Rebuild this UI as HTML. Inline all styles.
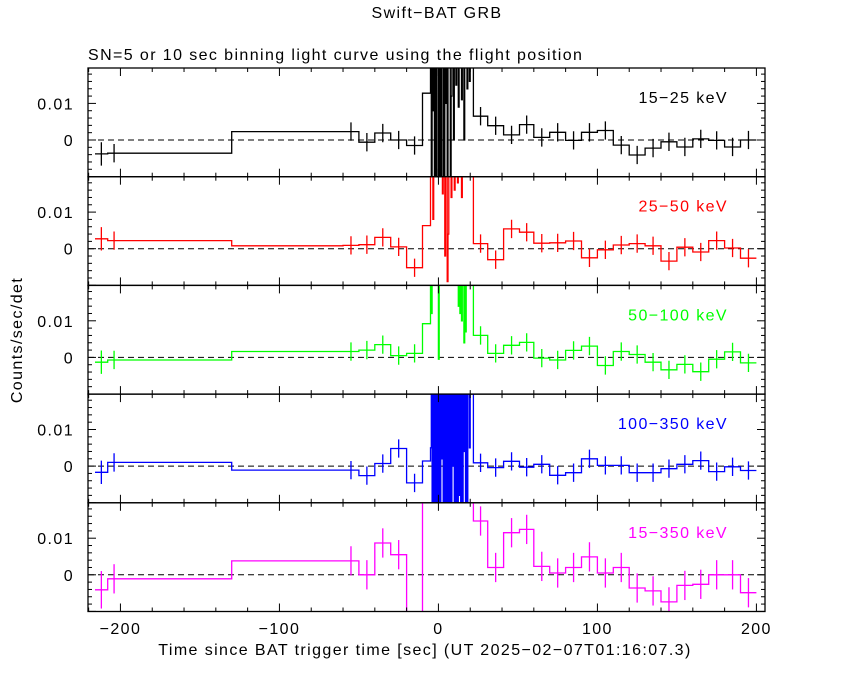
<!DOCTYPE html>
<html><head><meta charset="utf-8"><style>
html,body{margin:0;padding:0;background:#fff;}
svg{display:block;font-family:"Liberation Sans",sans-serif;}
svg text{letter-spacing:1.4px;}
</style></head><body>
<svg id="chart" width="850" height="680" viewBox="0 0 850 680" xmlns="http://www.w3.org/2000/svg">
<rect x="0" y="0" width="850" height="680" fill="#fff"/>
<text x="437" y="18" text-anchor="middle" font-size="16">Swift−BAT GRB</text>
<text x="88" y="60" font-size="16">SN=5 or 10 sec binning light curve using the flight position</text>
<text x="0" y="0" transform="translate(22,340) rotate(-90)" text-anchor="middle" font-size="16">Counts/sec/det</text>
<text x="425" y="655" text-anchor="middle" font-size="16">Time since BAT trigger time [sec] (UT 2025−02−07T01:16:07.3)</text>
<g id="plots"></g>
</svg>
<script>
const bandLabels = ["15−25 keV","25−50 keV","50−100 keV","100−350 keV","15−350 keV"];
const bandColors = ["#000000","#ff0000","#00ff00","#0000ff","#ff00ff"];
const xTicks = [-200,-100,0,100,200];
const xTickLabels = ["\u2212200","\u2212100","0","100","200"];
const yTicks = [0,0.01];
const yTickLabels = ["0","0.01"];
const preEdges = [-216,-208,-200,-130,-60,-50,-40,-30,-20,-10,-5];
const postEdges = [22,31,41,51,60,70,80,90,100,110,120,130,140,150,160,170,180,190,200];
const burstStart = -5, burstStep = 0.5;
const preErr = [0.0032,0.0025,0,0,0.0025,0.0025,0.0025,0.0025,0.0025,0];
const postErr = [0.0025,0.0025,0.0025,0.0025,0.0025,0.0025,0.0025,0.0025,0.0025,0.0025,0.0025,0.0025,0.0025,0.0025,0.0025,0.0025,0.0025,0.0025];
const errScale = [1,1,1,1,1.6];
const pre1 = [-0.0038,-0.0036,-0.0036,0.0023,0.0023,-0.0006,0.0019,0,-0.0015,0.0128];
const pre2 = [0.0027,0.0022,0.0022,0.0008,0.0009,0.0011,0.0031,0.0005,-0.0052,0.0063];
const pre3 = [-0.0013,-0.0007,-0.0007,0.0016,0.0016,0.002,0.0035,0.0005,0.0011,0.0092];
const pre4 = [-0.0017,0.001,0.001,-0.0011,-0.0011,-0.0026,0.0007,0.0048,-0.0046,0.0014];
const pre5 = [-0.0041,-0.0011,-0.0011,0.0038,0.0038,0,0.0087,0.0055,-0.015,0.03];
const post1 = [0.0065,0.0039,0.0014,0.0042,0.0007,0.0021,-0.0001,0.0021,0.0026,-0.0014,-0.0041,-0.0022,-0.0005,-0.0019,0.0003,-0.0001,-0.0019,0];
const post2 = [0.0014,-0.003,0.0054,0.0045,0.0015,0.0016,0.0021,-0.0025,-0.0003,0.001,0.0014,0.0008,-0.0034,0.0004,-0.0009,0.0022,0.0002,-0.0026];
const post3 = [0.006,0.0011,0.0033,0.0041,-0.0002,-0.0007,0.0019,0.0031,-0.0022,0.0016,0.0008,-0.0013,-0.0034,-0.0019,-0.0039,-0.0005,0.0015,-0.0015];
const post4 = [0.0009,-0.0004,0.0013,-0.0003,0.0005,-0.0025,-0.0018,0.002,0.0002,0.0002,-0.0018,-0.0018,-0.0007,0.0005,0.0015,-0.0015,-0.0002,-0.0012];
const post5 = [0.0147,0.002,0.0115,0.0124,0.0023,0.0005,0.002,0.0049,0.0005,0.002,-0.0036,-0.0044,-0.0074,-0.0029,-0.0026,0,0,-0.0049];
const burst1 = [0.03,-0.015,0.03,0.008,0.03,-0.015,0.03,-0.015,0.03,0.03,-0.015,0.03,-0.015,0.03,-0.015,-0.015,0.03,-0.015,0.03,0.01,0.03,-0.015,0.03,0.03,
 0.03,-0.015,0.012,0.03,0.03,0.0,0.03,0.03,0.015,0.03,0.03,0.009,0.03,0.03,0.03,0.011,0.03,0.03,0.0,0.03,0.03,0.03,0.014,0.03,0.03,0.016,0.03,0.03,0.03,0.03];
const burst2 = [0.03,0.03,0.03,0.008,0.03,0.03,0.03,0.03,0.03,0.03,0.03,0.03,0.03,0.03,0.03,0.015,0.03,0.03,-0.002,0.03,0.03,-0.009,0.004,0.03,
 0.03,0.03,0.014,0.03,0.03,0.03,0.016,0.03,0.03,0.03,0.018,0.03,0.03,0.03,0.03,0.014,0.03,0.03,0.03,0.03,0.03,0.03,0.03,0.03,0.03,0.03,0.03,0.03,0.03,0.03];
const burst3 = [0.03,0.012,0.03,0.03,0.03,0.03,0.03,0.03,0.03,0.03,-0.0005,0.03,0.03,0.03,0.03,0.03,0.03,0.03,0.03,0.03,0.03,0.03,0.03,0.03,
 0.03,0.03,0.03,0.03,0.03,0.03,0.03,0.03,0.03,0.03,0.03,0.014,0.03,0.012,0.03,0.01,0.03,0.03,0.004,0.03,0.007,0.03,0.03,0.03,0.03,0.03,0.03,0.03,0.03,0.03];
const burst4 = [0.005,0.03,-0.015,0.03,-0.015,0.03,-0.015,0.03,-0.015,0.03,-0.015,0.03,-0.015,0.03,0.002,0.03,-0.015,0.03,-0.015,0.03,-0.015,0.03,-0.015,0.03,
 -0.015,0.03,-0.015,0.03,0.0,0.03,-0.015,0.03,-0.015,0.03,-0.015,0.03,-0.008,0.03,-0.015,0.03,-0.015,0.03,0.004,0.03,-0.015,0.03,-0.015,0.03,0.03,0.005,0.03,0.03,0.03,0.03];
const burst5 = [0.03,0.03,0.03,0.03,0.03,0.03,0.03,0.03,0.03,0.03,0.03,0.03,0.03,0.03,0.03,0.03,0.03,0.03,0.03,0.03,0.03,0.03,0.03,0.03,
 0.03,0.03,0.03,0.03,0.03,0.03,0.03,0.03,0.03,0.03,0.03,0.03,0.03,0.03,0.03,0.03,0.03,0.03,0.03,0.03,0.03,0.03,0.03,0.03,0.03,0.03,0.03,0.03,0.03,0.03];
const preVals = [pre1,pre2,pre3,pre4,pre5];
const postVals = [post1,post2,post3,post4,post5];
const burstVals = [burst1,burst2,burst3,burst4,burst5];

const NS = "http://www.w3.org/2000/svg";
const L = 88, R = 765;
const tops = [68,176.7,285.4,394.1,502.8];
const PH = 108.7;
const xMin = -220.4, xMax = 205.4;
function xs(t){ return L + (t - xMin) / (xMax - xMin) * (R - L); }
function ys(p, v){ return tops[p] + 72 - v * 3660; }
const g = document.getElementById('plots');
function mk(tag, attrs, parent){ const e = document.createElementNS(NS, tag); for (const k in attrs) e.setAttribute(k, attrs[k]); (parent||g).appendChild(e); return e; }

for (let p = 0; p < 5; p++) {
  const top = tops[p], bot = top + PH;
  const clip = mk('clipPath', {id: 'clip' + p});
  mk('rect', {x: L, y: top, width: R - L, height: PH}, clip);
  const pg = mk('g', {'clip-path': 'url(#clip' + p + ')'});
  
  
  const z = mk('line', {x1: L, x2: R, y1: ys(p,0), y2: ys(p,0), stroke: '#000', 'stroke-width': 1, 'stroke-dasharray': '6,4'}, pg);
  
  
  const bins = [];
  for (let i = 0; i < preEdges.length - 1; i++) bins.push([preEdges[i], preEdges[i+1], preVals[p][i], preErr[i]]);
  for (let i = 0; i < burstVals[p].length; i++) { const a = burstStart + i * burstStep; bins.push([a, a + burstStep, burstVals[p][i], 0]); }
  bins.push([bins[bins.length-1][1], postEdges[0], burstVals[p][burstVals[p].length-1], 0]);
  for (let i = 0; i < postEdges.length - 1; i++) bins.push([postEdges[i], postEdges[i+1], postVals[p][i], postErr[i]]);
  let d = '';
  bins.forEach((b, i) => {
    const yy = ys(p, b[2]).toFixed(1);
    d += (i === 0 ? 'M' : 'L') + xs(b[0]).toFixed(1) + ' ' + yy + ' L' + xs(b[1]).toFixed(1) + ' ' + yy + ' ';
  });
  const path = mk('path', {d: d, fill: 'none', stroke: bandColors[p], 'stroke-width': 1.3}, pg);
  
  
  bins.forEach(b => {
    if (b[3] > 0) {
      const cx = xs((b[0] + b[1]) / 2), e = b[3] * errScale[p];
      const el = mk('line', {x1: cx, x2: cx, y1: ys(p, b[2] + e), y2: ys(p, b[2] - e), stroke: bandColors[p], 'stroke-width': 1.3}, pg);
      
      
    }
  });
  const fr = mk('rect', {x: L, y: top, width: R - L, height: PH, fill: 'none', stroke: '#000', 'stroke-width': 1.3});
  
  
  for (let t = -220; t <= 200; t += 20) {
    const major = (t % 100 === 0);
    const len = major ? 8 : 4, x = xs(t);
    if (x < L) continue;
    mk('line', {x1: x, x2: x, y1: top, y2: top + len, stroke: '#000', 'stroke-width': 1});
    mk('line', {x1: x, x2: x, y1: bot, y2: bot - len, stroke: '#000', 'stroke-width': 1});
  }
  for (let k = -5; k <= 9; k++) {
    const v = k * 0.002, y = ys(p, v);
    if (y <= top || y >= bot) continue;
    const len = (k % 5 === 0) ? 8 : 4;
    mk('line', {x1: L, x2: L + len, y1: y, y2: y, stroke: '#000', 'stroke-width': 1});
    mk('line', {x1: R, x2: R - len, y1: y, y2: y, stroke: '#000', 'stroke-width': 1});
  }
  yTicks.forEach((v, i) => {
    const t = mk('text', {x: 74, y: ys(p, v) + 6, 'text-anchor': 'end', 'font-size': 16});
    t.textContent = yTickLabels[i];
    
    
  });
  const lb = mk('text', {x: 728, y: top + 35, 'text-anchor': 'end', 'font-size': 16, fill: bandColors[p]});
  lb.textContent = bandLabels[p];
  
  
}
xTicks.forEach((t, i) => {
  const el = mk('text', {x: xs(t), y: 634, 'text-anchor': 'middle', 'font-size': 16});
  el.textContent = xTickLabels[i];
  
  
});
</script>
</body></html>
